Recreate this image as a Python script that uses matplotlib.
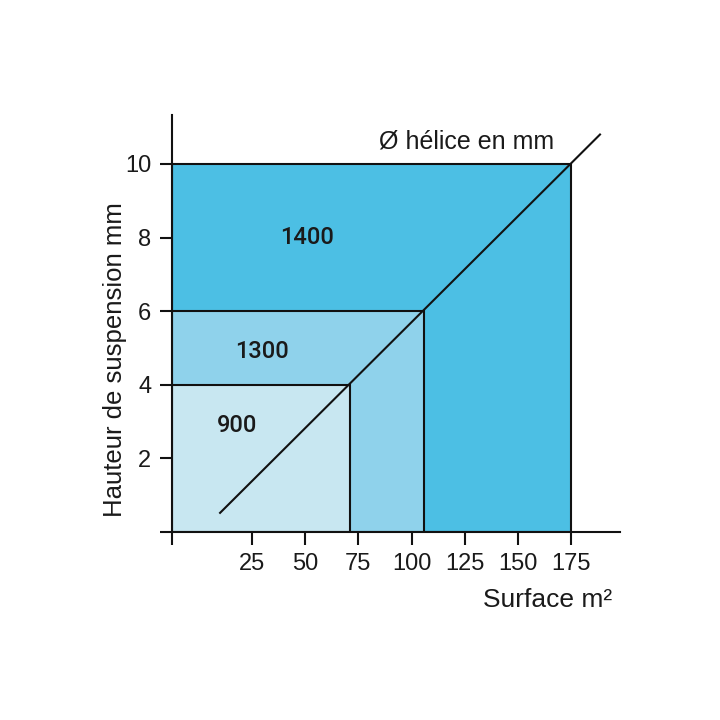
import matplotlib
matplotlib.use('Agg')
import matplotlib.pyplot as plt
from matplotlib.patches import Rectangle

# diametre d'helice (mm) -> surface max (m2) et hauteur max (m)
helices = ['1400', '1300', '900']
surfaces = [175, 106, 71]
hauteurs = [10, 6, 4]
couleurs = ['#4cbfe4', '#8fd2eb', '#c8e7f1']

# diagonale "Ø hélice en mm"
diag_x = [10, 188.6]
diag_y = [0.52, 10.8]

xticks = [25, 50, 75, 100, 125, 150, 175]
yticks = [2, 4, 6, 8, 10]

narrow = ['Liberation Sans', 'DejaVu Sans']
plain = ['Roboto', 'Liberation Sans', 'DejaVu Sans']

fig = plt.figure(figsize=(7.2, 7.2), dpi=100)
ax = fig.add_axes([172 / 720, 188 / 720, 448 / 720, 417 / 720])

x0 = -12.6
ax.set_xlim(x0, 198)
ax.set_ylim(0, 11.33)

for s, h, c in zip(surfaces, hauteurs, couleurs):
    ax.add_patch(Rectangle((x0, 0), s - x0, h, facecolor=c,
                           edgecolor='#111111', linewidth=1.5, zorder=1))

ax.plot(diag_x, diag_y, color='#111111', lw=1.5, zorder=3)

text_pos = {'1400': (51, 8.0), '1300': (29.5, 4.9), '900': (18, 2.9)}
for lab in helices:
    tx, ty = text_pos[lab]
    ax.text(tx, ty, lab, ha='center', va='center', fontsize=17,
            family=plain, weight='medium', color='#1a1a1a', zorder=4)

ax.text(126, 10.6, 'Ø hélice en mm', ha='center', va='center',
        fontsize=18, family=narrow, color='#1a1a1a')

for sp in ['top', 'right']:
    ax.spines[sp].set_visible(False)
for sp in ['left', 'bottom']:
    ax.spines[sp].set_linewidth(1.5)
    ax.spines[sp].set_color('#111111')
    ax.spines[sp].set_zorder(5)

ax.set_xticks([x0] + xticks)
ax.set_xticklabels([''] + [str(v) for v in xticks])
ax.set_yticks([0] + yticks)
ax.set_yticklabels([''] + [str(v) for v in yticks])
ax.tick_params(direction='out', length=9, width=1.5, color='#111111',
               labelsize=17, labelcolor='#1a1a1a', pad=6)
for lbl in ax.get_xticklabels() + ax.get_yticklabels():
    lbl.set_family(narrow)

fig.text(612 / 720, 1 - 600 / 720, 'Surface m²', ha='right', va='center',
         fontsize=19, family=narrow, color='#1a1a1a')
fig.text(115 / 720, 1 - 360 / 720, 'Hauteur de suspension mm', ha='center',
         va='center', rotation=90, fontsize=18.5, family=narrow, color='#1a1a1a')

fig.savefig('out.png', dpi=100)
